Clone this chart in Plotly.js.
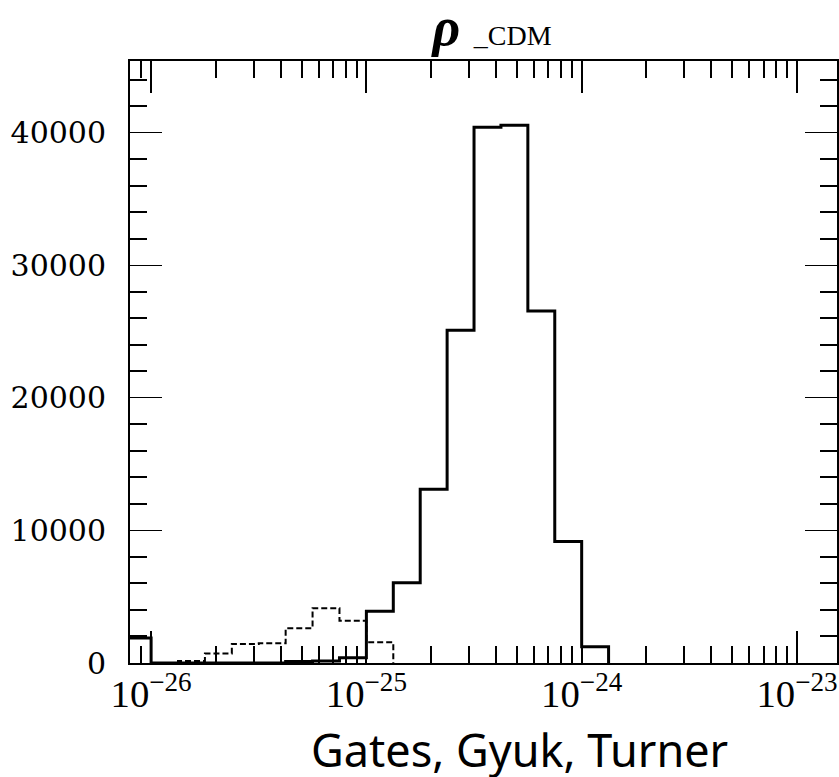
<!DOCTYPE html>
<html>
<head>
<meta charset="utf-8">
<script src="https://cdn.plot.ly/plotly-3.0.1.min.js"></script>
<style>html,body{margin:0;padding:0;background:#fff;}#chart{width:839px;height:777px;}</style>
</head>
<body>
<div id="chart"></div>
<script>
// Bin edges given as log10(rho) values (8 bins per decade)
const solidEdgesLog = [-26.125, -26, -25.875, -25.75, -25.625, -25.5, -25.375, -25.25, -25.125,
                       -25, -24.875, -24.75, -24.625, -24.5, -24.375, -24.25, -24.125, -24, -23.875];
const solidCounts = [1890, 0, 0, 0, 0, 0, 120, 150, 400,
                     3900, 6050, 13100, 25100, 40400, 40550, 26550, 9160, 1230];

const dashedEdgesLog = [-25.875, -25.75, -25.625, -25.5, -25.375, -25.25, -25.125, -25, -24.875];
const dashedCounts = [150, 720, 1440, 1490, 2620, 4130, 3190, 1560];

const titleText = "<b><i>ρ</i></b> <span style='font-size:28px'>_CDM</span>";
const captionText = "Gates, Gyuk, Turner";

function stepXY(edgesLog, counts) {
  const x = [Math.pow(10, edgesLog[0])];
  const y = [0];
  for (let i = 0; i < counts.length; i++) {
    x.push(Math.pow(10, edgesLog[i]));
    y.push(counts[i]);
  }
  x.push(Math.pow(10, edgesLog[edgesLog.length - 1]));
  y.push(0);
  return {x, y};
}

const s = stepXY(solidEdgesLog, solidCounts);
const d = stepXY(dashedEdgesLog, dashedCounts);

const traces = [
  {x: d.x, y: d.y, mode: 'lines', line: {color: 'black', width: 2, shape: 'hv', dash: '6px,3px'}, showlegend: false, hoverinfo: 'skip'},
  {x: s.x, y: s.y, mode: 'lines', line: {color: 'black', width: 3, shape: 'hv'}, showlegend: false, hoverinfo: 'skip'}
];

const layout = {
  width: 839, height: 777,
  margin: {l: 130, r: 2, t: 61, b: 114},
  paper_bgcolor: 'white', plot_bgcolor: 'white',
  showlegend: false,
  title: {
    text: titleText,
    font: {family: 'Liberation Serif', size: 54, color: 'black'},
    xref: 'paper', x: 0.512, xanchor: 'center',
    yref: 'container', y: 0.967, yanchor: 'middle'
  },
  xaxis: {
    type: 'log', range: [-26.098, -22.814], dtick: 1,
    exponentformat: 'power', showexponent: 'all',
    ticks: 'inside', ticklen: 32, tickwidth: 2, tickcolor: 'black',
    showline: true, linewidth: 2, linecolor: 'black', mirror: 'allticks',
    showgrid: false, zeroline: false,
    minor: {dtick: 'D1', ticks: 'inside', ticklen: 17, tickwidth: 2, tickcolor: 'black', showgrid: false},
    tickfont: {family: 'Liberation Serif', size: 31, color: 'black'},
    ticklabelstandoff: -3, ticklabeloverflow: 'allow'
  },
  yaxis: {
    range: [0, 45400], dtick: 10000, tick0: 0, tickformat: 'd',
    ticks: 'inside', ticklen: 32, tickwidth: 1, tickcolor: 'black',
    showline: true, linewidth: 2, linecolor: 'black', mirror: 'allticks',
    showgrid: false, zeroline: false,
    minor: {dtick: 2000, ticks: 'inside', ticklen: 17, tickwidth: 2, tickcolor: 'black', showgrid: false},
    tickfont: {family: 'DejaVu Serif', size: 30, color: 'black'},
    ticklabelstandoff: 16
  },
  annotations: [{
    text: captionText, xref: 'paper', yref: 'paper',
    x: 0.551, y: -0.143, xanchor: 'center', yanchor: 'middle',
    showarrow: false, font: {family: 'Noto Sans', size: 45, color: 'black'}
  }]
};

Plotly.newPlot('chart', traces, layout, {displayModeBar: false, staticPlot: true});
</script>
</body>
</html>
